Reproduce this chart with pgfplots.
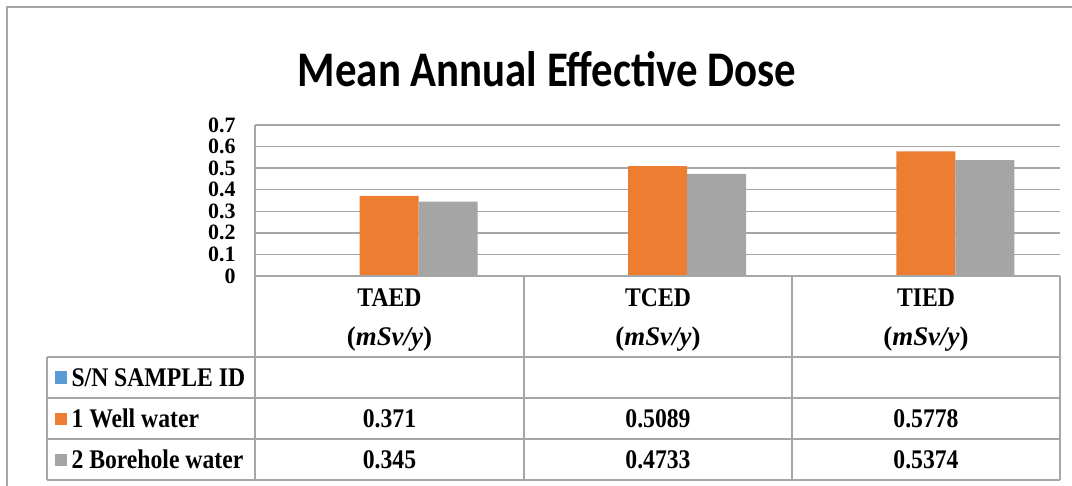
\documentclass[border=0pt]{standalone}
\usepackage{pgfplots}
\pgfplotsset{compat=1.18}
\usepackage{fontspec}
\setmainfont[FakeStretch=0.88]{Liberation Serif}
\newfontfamily\mathitfont{Liberation Serif}
\newfontfamily\titlefont[FakeStretch=0.86]{Carlito}
\definecolor{xblue}{HTML}{5B9BD5}
\definecolor{xorange}{HTML}{ED7D31}
\definecolor{xgray}{HTML}{A5A5A5}
\definecolor{gridc}{HTML}{A6A6A6}
\definecolor{framec}{HTML}{A6A6A6}
\begin{document}
\begin{tikzpicture}[x=1bp,y=1bp]
\path[use as bounding box] (0,0) rectangle (1072,-486);
\draw[framec, line width=2.5bp] (7,-486) -- (7,-7) -- (1072,-7);
\node[anchor=base, font=\titlefont\bfseries\fontsize{50}{50}\selectfont] at (547,-87) {Mean Annual Effective Dose};
\begin{axis}[
  at={(255bp,-276bp)}, anchor=south west,
  scale only axis, width=805bp, height=151bp,
  xmin=-0.5, xmax=2.5, ymin=0, ymax=0.7,
  xtick=\empty,
  ytick={0,0.1,0.2,0.3,0.4,0.5,0.6,0.7},
  yticklabels={0,0.1,0.2,0.3,0.4,0.5,0.6,0.7},
  major tick length=0pt,
  ymajorgrids,
  grid style={gridc, line width=1.5bp},
  axis x line=bottom, axis y line=left,
  axis line style={-, gridc, line width=1.5bp},
  yticklabel style={font=\mathitfont\bfseries\fontsize{22}{22}\selectfont, xshift=-16bp, inner ysep=0pt},
  clip=false,
]
\addplot[ybar, bar width=59bp, bar shift=0bp, fill=xorange, draw=none] coordinates {(0,0.371) (1,0.5089) (2,0.5778)};
\addplot[ybar, bar width=59bp, bar shift=59bp, fill=xgray, draw=none] coordinates {(0,0.345) (1,0.4733) (2,0.5374)};
\end{axis}
% data table
\begin{scope}[gridc, line width=1.5bp]
\draw (255,-276) -- (1060,-276);
\foreach \yy in {-357,-398,-439,-480} \draw (47,\yy) -- (1060,\yy);
\draw (47,-357) -- (47,-480);
\foreach \xx in {255,524,792,1060} \draw (\xx,-276) -- (\xx,-480);
\end{scope}
\begin{scope}[font=\bfseries\fontsize{27}{27}\selectfont]
\foreach \cx/\lab in {389.5/TAED,658/TCED,926/TIED}{
  \node at (\cx,-298) {\lab};
  \node[font=\mathitfont\bfseries\fontsize{27}{27}\selectfont] at (\cx,-339) {(\textit{mSv/y})};
}
\node[anchor=west] at (68,-377.5) {S/N SAMPLE ID};
\node[anchor=west] at (68,-418.5) {1 Well water};
\node[anchor=west] at (68,-459.5) {2 Borehole water};
\fill[xblue] (55,-371.5) rectangle (67,-383.5);
\fill[xorange] (55,-412.5) rectangle (67,-424.5);
\fill[xgray] (55,-453.5) rectangle (67,-465.5);
\node at (389.5,-418.5) {0.371};
\node at (658,-418.5) {0.5089};
\node at (926,-418.5) {0.5778};
\node at (389.5,-459.5) {0.345};
\node at (658,-459.5) {0.4733};
\node at (926,-459.5) {0.5374};
\end{scope}
\end{tikzpicture}
\end{document}
